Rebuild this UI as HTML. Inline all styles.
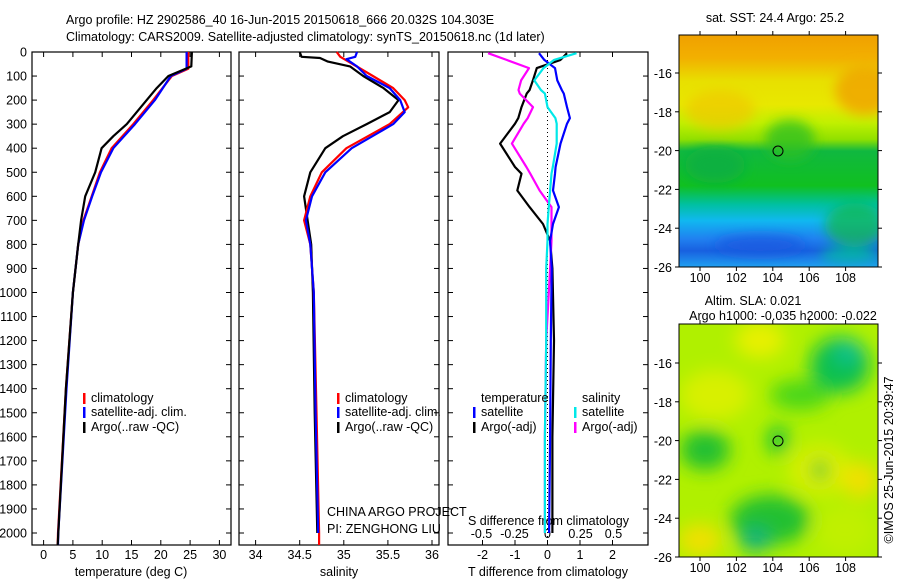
<!DOCTYPE html>
<html><head><meta charset="utf-8"><style>
html,body{margin:0;padding:0;background:#fff;width:900px;height:580px;overflow:hidden}
svg{font-family:"Liberation Sans",sans-serif;font-size:12.5px}
</style></head><body>
<svg id="chart" width="900" height="580" viewBox="0 0 900 580" xmlns="http://www.w3.org/2000/svg">
<defs>
<filter id="blur1" x="-20%" y="-20%" width="140%" height="140%"><feGaussianBlur stdDeviation="6"/></filter>
<filter id="blur2" x="-20%" y="-20%" width="140%" height="140%"><feGaussianBlur stdDeviation="9"/></filter>
<clipPath id="clipM1"><rect x="679" y="35" width="199" height="232"/></clipPath>
<clipPath id="clipM2"><rect x="679" y="324" width="199" height="233"/></clipPath>
<linearGradient id="sstGrad" x1="0" y1="0" x2="0" y2="1">
<stop offset="0" stop-color="#f0a000"/><stop offset="0.1" stop-color="#f2b000"/>
<stop offset="0.2" stop-color="#e8e000"/><stop offset="0.3" stop-color="#e8e800"/>
<stop offset="0.38" stop-color="#c0f000"/><stop offset="0.45" stop-color="#90e000"/>
<stop offset="0.5" stop-color="#10b840"/><stop offset="0.65" stop-color="#10c020"/>
<stop offset="0.73" stop-color="#00c0a0"/><stop offset="0.8" stop-color="#10b8f0"/>
<stop offset="0.88" stop-color="#2080f0"/><stop offset="0.93" stop-color="#1860e0"/>
<stop offset="1" stop-color="#20a0f0"/></linearGradient>
</defs>

<text x="66" y="24">Argo profile: HZ 2902586_40 16-Jun-2015 20150618_666 20.032S 104.303E</text>
<text x="66" y="41">Climatology: CARS2009. Satellite-adjusted climatology: synTS_20150618.nc (1d later)</text>

<g id="p1"></g>
<g id="p2"></g>
<g id="p3"></g>

<!-- SST map -->
<g clip-path="url(#clipM1)">
<rect x="679" y="35" width="199" height="232" fill="url(#sstGrad)"/>
<g filter="url(#blur1)">
<ellipse cx="865" cy="90" rx="30" ry="25" fill="#f0a800" opacity="0.9"/>
<ellipse cx="720" cy="110" rx="35" ry="20" fill="#f0c800" opacity="0.7"/>
<ellipse cx="715" cy="165" rx="30" ry="18" fill="#10b040"/>
<ellipse cx="790" cy="140" rx="25" ry="20" fill="#30c020" opacity="0.8"/>
<ellipse cx="855" cy="225" rx="30" ry="22" fill="#10b840" opacity="0.7"/>
<ellipse cx="850" cy="255" rx="30" ry="8" fill="#00c0a0" opacity="0.8"/>
<ellipse cx="760" cy="245" rx="45" ry="10" fill="#1858e0" opacity="0.8"/>
</g></g>
<rect x="679" y="35" width="199" height="232" fill="none" stroke="#000"/>
<circle cx="778" cy="151" r="5" fill="none" stroke="#000"/>
<text x="775" y="22" text-anchor="middle">sat. SST: 24.4 Argo: 25.2</text>

<!-- SLA map -->
<g clip-path="url(#clipM2)">
<rect x="679" y="324" width="199" height="233" fill="#b0f000"/>
<g filter="url(#blur2)">
<ellipse cx="760" cy="340" rx="25" ry="18" fill="#e8f000"/>
<ellipse cx="715" cy="395" rx="35" ry="25" fill="#d8f000"/>
<ellipse cx="840" cy="365" rx="30" ry="28" fill="#10c050"/>
<ellipse cx="848" cy="352" rx="14" ry="12" fill="#10c090"/>
<ellipse cx="800" cy="395" rx="30" ry="15" fill="#30d020" opacity="0.8"/>
<ellipse cx="705" cy="450" rx="25" ry="20" fill="#20c030"/>
<ellipse cx="778" cy="440" rx="10" ry="14" fill="#10c040"/>
<ellipse cx="820" cy="470" rx="30" ry="25" fill="#e0f000" opacity="0.9"/>
<ellipse cx="860" cy="480" rx="18" ry="18" fill="#f0e000"/>
<ellipse cx="820" cy="470" rx="8" ry="10" fill="#10c030"/>
<ellipse cx="770" cy="520" rx="40" ry="25" fill="#20c030"/>
<ellipse cx="755" cy="540" rx="15" ry="12" fill="#10b080"/>
<ellipse cx="700" cy="540" rx="22" ry="16" fill="#f0e000"/>
<ellipse cx="845" cy="530" rx="30" ry="25" fill="#c0f000"/>
</g></g>
<rect x="679" y="324" width="199" height="233" fill="none" stroke="#000"/>
<circle cx="778" cy="441" r="5" fill="none" stroke="#000"/>
<text x="753" y="305" text-anchor="middle">Altim. SLA: 0.021</text>
<text x="783" y="320" text-anchor="middle">Argo h1000: -0.035 h2000: -0.022</text>
<text transform="translate(893,460) rotate(-90)" text-anchor="middle">©IMOS 25-Jun-2015 20:39:47</text>
<g id="mapaxes"></g>
</svg>
<script>
// ---- data ----
const depthTA = [0,60,100,150,200,300,350,400,500,600,700,800,1000,1400,2000,2050];
const tempArgo = [25.3,25.2,21.3,19.3,17.6,14.2,11.9,9.9,8.8,7.1,6.4,5.9,5.0,3.8,2.5,2.4];
const depthTC = [0,70,100,200,300,400,500,600,700,800,1000,1400,2000,2050];
const tempClim = [24.7,24.7,21.9,18.7,15.3,11.6,9.6,8.2,6.8,5.9,5.0,3.8,2.45,2.4];
const tempSat = [24.4,24.4,21.7,19.0,15.6,11.9,9.8,8.3,6.9,5.9,5.0,3.9,2.5,2.45];
const depthSA = [0,20,25,40,60,100,150,200,250,300,350,400,500,600,700,800,1000,1500,2000];
const salArgo = [34.50,34.52,34.73,34.82,35.07,35.22,35.45,35.62,35.52,35.26,34.99,34.79,34.62,34.55,34.59,34.63,34.65,34.67,34.70];
const depthSR = [0,20,50,100,150,200,230,300,400,500,600,700,800,1000,1500,2000,2050];
const salClim = [34.92,34.96,35.10,35.33,35.56,35.69,35.73,35.52,35.03,34.75,34.62,34.55,34.62,34.66,34.69,34.72,34.72];
const depthSB = [0,20,30,60,100,150,200,250,300,400,500,600,700,800,1000,1500,2000];
const salSat = [35.15,35.13,35.03,35.15,35.26,35.52,35.64,35.69,35.56,35.09,34.79,34.64,34.57,34.62,34.66,34.68,34.71];
const depthD = [5,33,67,118,158,173,229,275,298,381,478,506,576,645,715,785,900,1200,1600,2000];
const dTsat = [-0.26,-0.1,0.23,0.3,0.44,0.5,0.6,0.69,0.6,0.4,0.25,0.23,0.17,0.35,0.17,0.08,0.13,0.1,0.08,0.05];
const dTargo = [0.6,0.4,-0.33,-0.45,-0.55,-0.64,-0.8,-0.9,-1.0,-1.46,-1.0,-0.8,-0.93,-0.55,-0.14,0.08,0.15,0.2,0.15,0.15];
const dSargo = [-0.45,-0.31,-0.14,-0.2,-0.22,-0.21,-0.11,-0.15,-0.18,-0.27,-0.16,-0.13,-0.06,0.03,0.03,0.03,0.02,-0.01,-0.02,-0.02];
const dSsat = [0.22,0.05,-0.03,-0.1,-0.05,-0.02,0,0.06,0.07,0.07,0.04,0.03,0.02,0.01,0,0,-0.01,-0.01,-0.02,-0.02];
const depthTicks = [0,100,200,300,400,500,600,700,800,900,1000,1100,1200,1300,1400,1500,1600,1700,1800,1900,2000];
const tempTicks = [0,5,10,15,20,25,30];
const salTicks = [34,34.5,35,35.5,36];
const salTickLabels = ["34","34.5","35","35.5","36"];
const tdTicks = [-2,-1,0,1,2];
const sdTicks = [-0.5,-0.25,0,0.25,0.5];
const sdTickLabels = ["-0.5","-0.25","0","0.25","0.5"];
const latTicks = [-16,-18,-20,-22,-24,-26];
const lonTicks = [100,102,104,106,108];

const NS="http://www.w3.org/2000/svg";
const svg=document.getElementById('chart');
function mk(tag,attrs,parent,txt){const e=document.createElementNS(NS,tag);for(const k in attrs)e.setAttribute(k,attrs[k]);if(txt!==undefined)e.textContent=txt;(parent||svg).appendChild(e);return e;}
const Y0=52,Ybot=545;
const yD=d=>Y0+d*0.2405;
const xT=t=>43.6+t*5.86;
const xS=s=>255.6+(s-34)*88.2;
const xTD=v=>547.5+v*32.5;
const xSD=v=>547.5+v*132;

function line(g,xs,ds,fx,color,name,w){
  let p=xs.map((v,i)=>(i?'L':'M')+fx(v).toFixed(1)+' '+yD(ds[i]).toFixed(1)).join(' ');
  const e=mk('path',{d:p,fill:'none',stroke:color,'stroke-width':w||2.2,'stroke-linejoin':'round'},g);
  
  
}
function frame(g,x0,x1,name){
  const r=mk('rect',{x:x0,y:Y0,width:x1-x0,height:Ybot-Y0,fill:'none',stroke:'#000','stroke-width':1.2},g);
  
  
}
function xticks(g,vals,labels,fx,ylab,name,top){
  vals.forEach((v,i)=>{const x=fx(v);
    mk('line',{x1:x,x2:x,y1:Ybot,y2:Ybot-5,stroke:'#000'},g);
    if(top) mk('line',{x1:x,x2:x,y1:Y0,y2:Y0+5,stroke:'#000'},g);
    const t=mk('text',{x:x,y:ylab,'text-anchor':'middle'},g,labels[i]);
    
    
  });
}
function legend(g,x,y,color,label){
  mk('rect',{x:x,y:y-9,width:2.5,height:11,fill:color},g);
  const t=mk('text',{x:x+8,y:y},g,label);
  
  
}

// panel 1
const p1=document.getElementById('p1');
frame(p1,32,231,'temperature-frame');
depthTicks.forEach(d=>{const y=yD(d);
  mk('line',{x1:32,x2:37,y1:y,y2:y,stroke:'#000'},p1);
  mk('line',{x1:231,x2:226,y1:y,y2:y,stroke:'#000'},p1);
  const t=mk('text',{x:27,y:y+4.5,'text-anchor':'end'},p1,String(d));
  
  
});
xticks(p1,tempTicks,tempTicks.map(String),xT,559,'temperature-tick-label',true);
mk('text',{x:131,y:576,'text-anchor':'middle',},p1,'temperature (deg C)');
line(p1,tempClim,depthTC,xT,'#ff0000','temp-climatology-line');
line(p1,tempSat,depthTC,xT,'#0000ff','temp-satellite-line');
line(p1,tempArgo,depthTA,xT,'#000','temp-argo-line');
legend(p1,83,402,'#ff0000','climatology');
legend(p1,83,416,'#0000ff','satellite-adj. clim.');
legend(p1,83,431,'#000','Argo(..raw -QC)');

// panel 2
const p2=document.getElementById('p2');
frame(p2,239,439,'salinity-frame');
depthTicks.forEach(d=>{const y=yD(d);
  mk('line',{x1:239,x2:244,y1:y,y2:y,stroke:'#000'},p2);
  mk('line',{x1:439,x2:434,y1:y,y2:y,stroke:'#000'},p2);
});
xticks(p2,salTicks,salTickLabels,xS,559,'salinity-tick-label',true);
mk('text',{x:339,y:576,'text-anchor':'middle',},p2,'salinity');
line(p2,salArgo,depthSA,xS,'#000','sal-argo-line');
line(p2,salClim,depthSR,xS,'#ff0000','sal-climatology-line');
line(p2,salSat,depthSB,xS,'#0000ff','sal-satellite-line');
legend(p2,337,402,'#ff0000','climatology');
legend(p2,337,416,'#0000ff','satellite-adj. clim.');
legend(p2,337,431,'#000','Argo(..raw -QC)');
mk('text',{x:327,y:545-29,},p2,'CHINA ARGO PROJECT');
mk('text',{x:327,y:545-12,},p2,'PI: ZENGHONG LIU');

// panel 3
const p3=document.getElementById('p3');
frame(p3,448,648,'difference-frame');
depthTicks.forEach(d=>{const y=yD(d);
  mk('line',{x1:448,x2:453,y1:y,y2:y,stroke:'#000'},p3);
  mk('line',{x1:648,x2:643,y1:y,y2:y,stroke:'#000'},p3);
});
xticks(p3,tdTicks,tdTicks.map(String),xTD,559,'t-diff-tick-label',true);
sdTicks.forEach((v,i)=>{const t=mk('text',{x:xSD(v),y:538,'text-anchor':'middle'},p3,sdTickLabels[i]);
  
  });
mk('text',{x:468,y:525,},p3,'S difference from climatology');
mk('text',{x:548,y:576,'text-anchor':'middle',},p3,'T difference from climatology');
mk('line',{x1:xTD(0),x2:xTD(0),y1:Y0,y2:Ybot,stroke:'#000','stroke-dasharray':'1,3',},p3);
line(p3,dTargo,depthD,xTD,'#000','tdiff-argo-line');
line(p3,dSargo,depthD,xSD,'#ff00ff','sdiff-argo-line');
line(p3,dTsat,depthD,xTD,'#0000ff','tdiff-satellite-line');
line(p3,dSsat,depthD,xSD,'#00e8e8','sdiff-satellite-line');
mk('text',{x:481,y:402,},p3,'temperature');
mk('text',{x:582,y:402,},p3,'salinity');
legend(p3,473,416,'#0000ff','satellite');
legend(p3,473,431,'#000','Argo(-adj)');
legend(p3,574,416,'#00e8e8','satellite');
legend(p3,574,431,'#ff00ff','Argo(-adj)');

// map axes
const ma=document.getElementById('mapaxes');
const xLon=l=>700+(l-100)*18.2;
[[35,267,73],[324,557,363]].forEach(([top,bot,y16],mi)=>{
  const yLat=la=>y16+(-16-la)*((bot-y16)/10);
  latTicks.forEach(la=>{const y=yLat(la);
    mk('line',{x1:679,x2:675,y1:y,y2:y,stroke:'#000'},ma);
    mk('line',{x1:878,x2:882,y1:y,y2:y,stroke:'#000'},ma);
    const t=mk('text',{x:672,y:y+5,'text-anchor':'end'},ma,String(la));
    
    
  });
  lonTicks.forEach(lo=>{const x=xLon(lo);
    mk('line',{x1:x,x2:x,y1:top,y2:top-4,stroke:'#000'},ma);
    mk('line',{x1:x,x2:x,y1:bot,y2:bot+4,stroke:'#000'},ma);
    const t=mk('text',{x:x,y:bot+15,'text-anchor':'middle'},ma,String(lo));
    
    
  });
});
</script>
</body></html>
